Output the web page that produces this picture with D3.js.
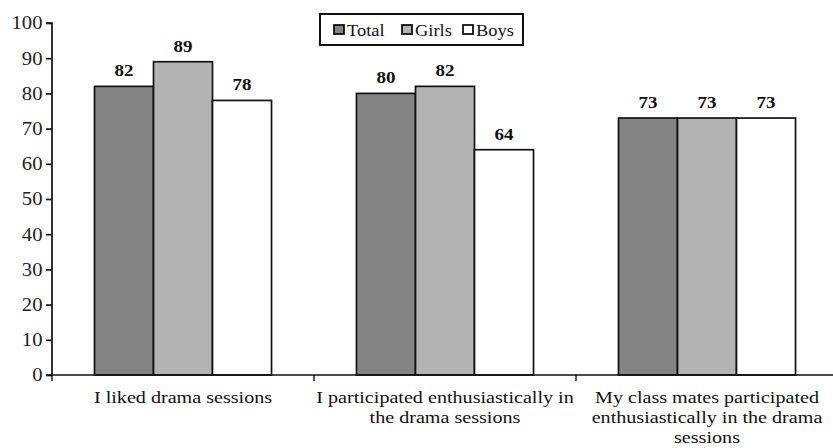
<!DOCTYPE html>
<html><head><meta charset="utf-8">
<script src="https://cdn.jsdelivr.net/npm/d3@7"></script>
<style>body{margin:0;background:#fff}</style>
</head><body>
<svg id="c" width="833" height="448"></svg>
<script>
const categories = [
  ["I liked drama sessions"],
  ["I participated enthusiastically in", "the drama sessions"],
  ["My class mates participated", "enthusiastically in the drama", "sessions"]
];
const seriesNames = ["Total", "Girls", "Boys"];
const total = [82, 80, 73];
const girls = [89, 82, 73];
const boys  = [78, 64, 73];
const yTicks = [0,10,20,30,40,50,60,70,80,90,100];
const colors = ["#848484", "#b3b3b3", "#ffffff"];

const series = [total, girls, boys];
const svg = d3.select("#c");
const font = "'Liberation Serif','Times New Roman',serif";
const sx = 1.15; // horizontal stretch of text seen in the reference
const x0 = 52, x1 = 838, yTop = 23, yBot = 375;

const x = d3.scaleBand().domain(d3.range(categories.length)).range([x0, x1]).paddingInner(0).paddingOuter(0);
const xs = d3.scaleBand().domain(d3.range(series.length)).range([0, x.bandwidth()]).paddingOuter(0.72).paddingInner(0);
const y = d3.scaleLinear().domain([0,100]).range([yBot, yTop]);

function stext(g, tx, ty, str) {
  return g.append("text")
    .attr("transform", `translate(${tx},${ty}) scale(${sx},1)`)
    .attr("font-family", font).attr("fill", "#111").text(str);
}

// bars
series.forEach((s, si) => {
  svg.append("g").selectAll("rect").data(s).join("rect")
    .attr("x", (d,i) => x(i) + xs(si))
    .attr("y", d => y(d))
    .attr("width", xs.bandwidth())
    .attr("height", d => y(0) - y(d))
    .attr("fill", colors[si])
    .attr("stroke", "#111").attr("stroke-width", 1.7);
  const lg = svg.append("g");
  s.forEach((d, i) => {
    stext(lg, x(i) + xs(si) + xs.bandwidth()/2, y(d) - 10, d)
      .attr("text-anchor", "middle").attr("font-weight", "bold").attr("font-size", 16.5);
  });
});

// y axis
const yAxis = d3.axisLeft(y).tickValues(yTicks).tickSize(6).tickPadding(3).tickFormat(d3.format("d"));
const ga = svg.append("g").attr("transform", `translate(${x0},0)`).call(yAxis);
ga.select(".domain").attr("stroke", "#111").attr("stroke-width", 1.7).attr("d", `M-6,${yTop}H0V${yBot}`);
ga.selectAll(".tick line").attr("stroke", "#111").attr("stroke-width", 1.7);
ga.selectAll(".tick text")
  .attr("font-family", font).attr("font-size", 18).attr("fill", "#222")
  .attr("x", -9.5 / sx).attr("dy", "0.33em")
  .attr("transform", `scale(${sx},1)`);

// x axis
const xAxis = d3.axisBottom(x).tickValues([]).tickSizeOuter(0);
const gx = svg.append("g").attr("transform", `translate(0,${yBot})`).call(xAxis);
gx.select(".domain").attr("stroke", "#111").attr("stroke-width", 1.7).attr("d", `M${x0-6},0H${x1}`);
svg.append("g").selectAll("line").data(d3.range(categories.length + 1)).join("line")
  .attr("x1", i => x0 + i * x.bandwidth()).attr("x2", i => x0 + i * x.bandwidth())
  .attr("y1", yBot).attr("y2", yBot + 6)
  .attr("stroke", "#111").attr("stroke-width", 1.4);

// category labels
categories.forEach((lines, i) => {
  const g = svg.append("g");
  lines.forEach((ln, j) => {
    stext(g, x(i) + x.bandwidth()/2, 403 + j * 20, ln)
      .attr("text-anchor", "middle").attr("font-size", 17.5);
  });
});

// legend
const lg = svg.append("g");
lg.append("rect").attr("x", 320).attr("y", 14).attr("width", 203).attr("height", 31)
  .attr("fill", "#fff").attr("stroke", "#111").attr("stroke-width", 2);
const legX = [334, 402, 463];
seriesNames.forEach((n, i) => {
  lg.append("rect").attr("x", legX[i]).attr("y", 25).attr("width", 10).attr("height", 9)
    .attr("fill", colors[i]).attr("stroke", "#111").attr("stroke-width", 1.8);
  stext(lg, legX[i] + 13, 35.5, n).attr("font-size", 16);
});
</script>
</body></html>
